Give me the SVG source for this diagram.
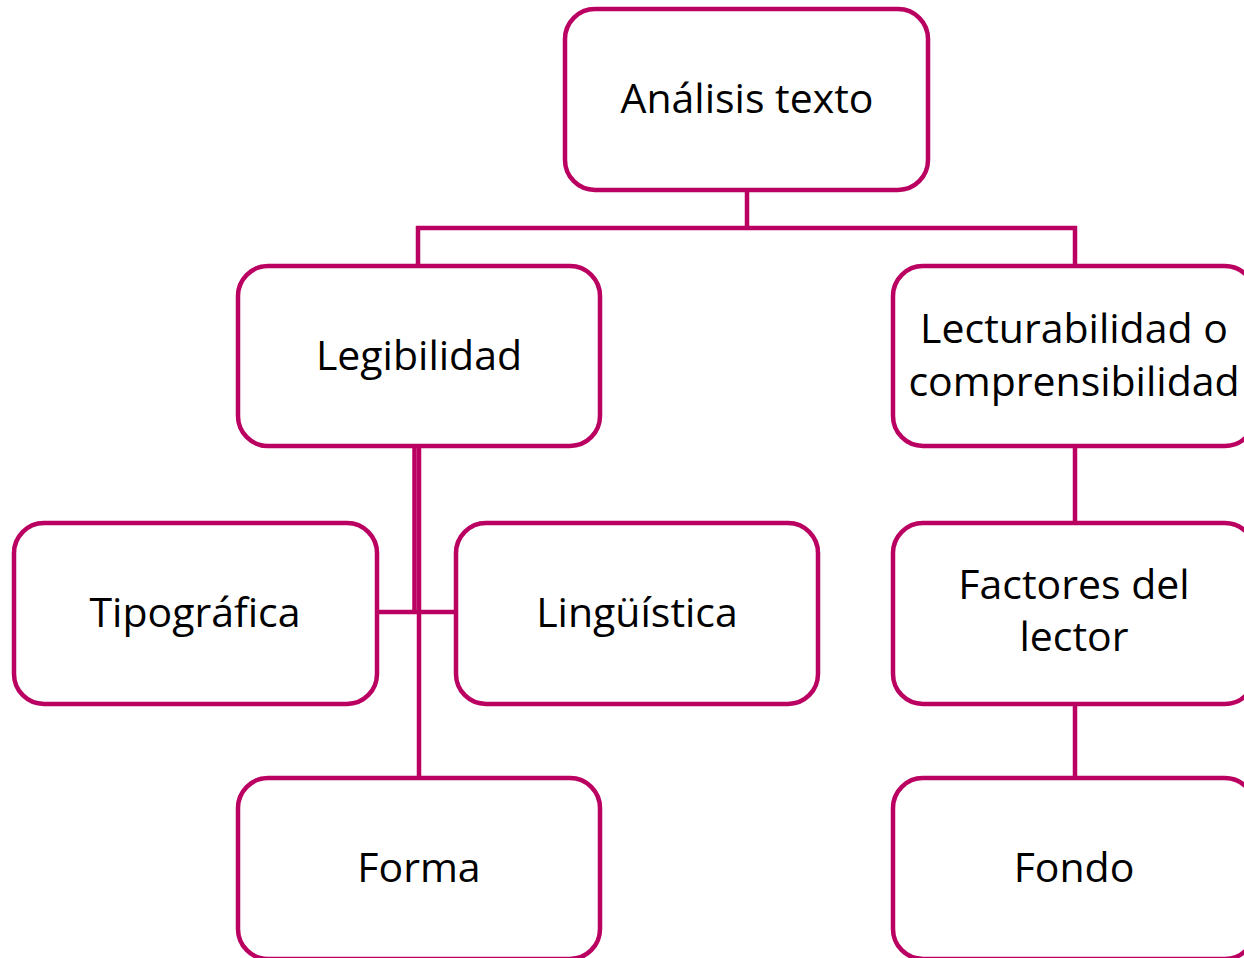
<svg xmlns="http://www.w3.org/2000/svg" width="1244" height="958" viewBox="0 0 1244 958">
<style>
.box{fill:#fff;stroke:#BA0061;stroke-width:4.5}
.c{stroke:#BA0061;stroke-width:4.5;fill:none}
text{font-family:"Open Sans","Noto Sans",sans-serif;font-size:41px;fill:#000;text-anchor:middle}
</style>
<rect width="1244" height="958" fill="#fff"/>
<g id="connectors">
<line class="c" x1="747" y1="190" x2="747" y2="228"/>
<line class="c" x1="416" y1="228" x2="1077" y2="228"/>
<line class="c" x1="418" y1="226" x2="418" y2="266"/>
<line class="c" x1="1075" y1="226" x2="1075" y2="266"/>
<line class="c" x1="414.5" y1="446" x2="414.5" y2="612"/>
<line class="c" x1="377" y1="612" x2="456" y2="612"/>
<line class="c" x1="419" y1="446" x2="419" y2="778"/>
<line class="c" x1="1075" y1="446" x2="1075" y2="522"/>
<line class="c" x1="1075" y1="704" x2="1075" y2="778"/>
</g>
<g id="n-analisis"><rect class="box" x="565" y="9" width="363" height="181" rx="30"/><text x="747" y="113">Análisis texto</text></g>
<g id="n-legibilidad"><rect class="box" x="238" y="266" width="362" height="180" rx="30"/><text x="419" y="370">Legibilidad</text></g>
<g id="n-lecturabilidad"><rect class="box" x="893" y="266" width="362" height="180" rx="30"/><text x="1074" y="343">Lecturabilidad o</text><text x="1074" y="396">comprensibilidad</text></g>
<g id="n-tipografica"><rect class="box" x="14" y="523" width="363" height="181" rx="30"/><text x="195" y="627">Tipográfica</text></g>
<g id="n-linguistica"><rect class="box" x="456" y="523" width="362" height="181" rx="30"/><text x="637" y="627">Lingüística</text></g>
<g id="n-factores"><rect class="box" x="893" y="523" width="362" height="181" rx="30"/><text x="1074" y="599">Factores del</text><text x="1074" y="651">lector</text></g>
<g id="n-forma"><rect class="box" x="238" y="778" width="362" height="181" rx="30"/><text x="419" y="882">Forma</text></g>
<g id="n-fondo"><rect class="box" x="893" y="778" width="362" height="181" rx="30"/><text x="1074" y="882">Fondo</text></g>
</svg>
